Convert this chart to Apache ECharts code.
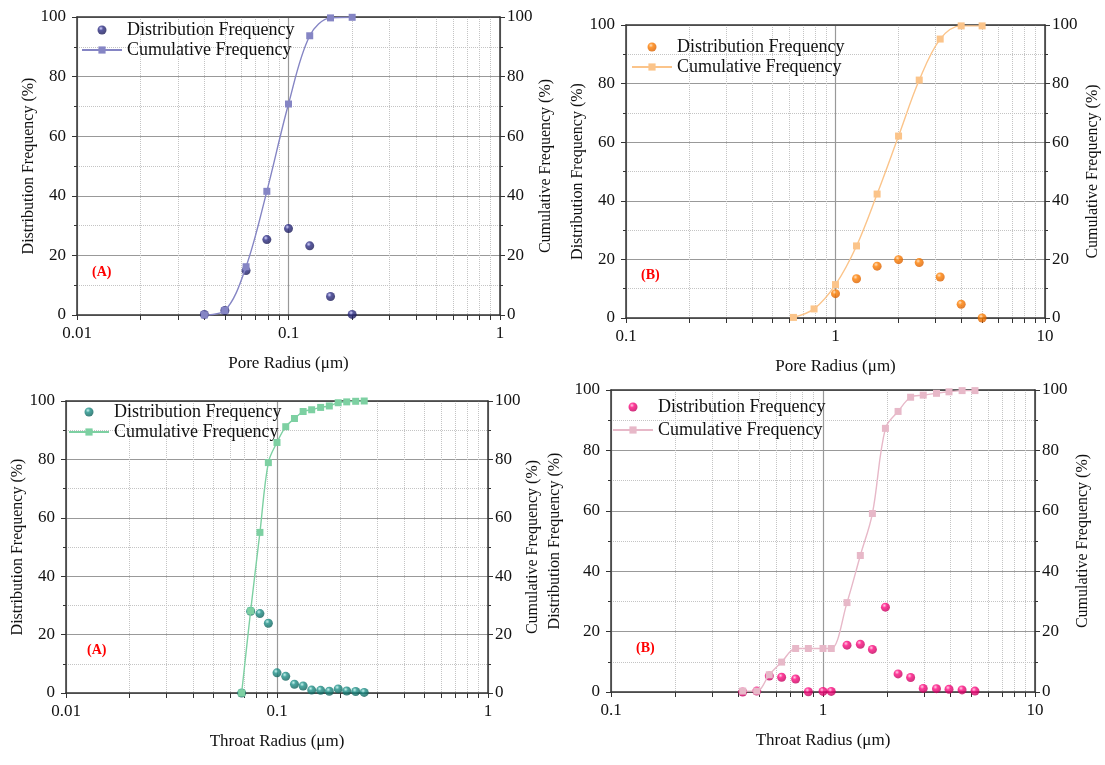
<!DOCTYPE html>
<html>
<head>
<meta charset="utf-8">
<title>Pore and throat radius distribution</title>
<script src="https://cdn.jsdelivr.net/npm/echarts@6.0.0/dist/echarts.min.js"></script>
<style>
html, body { margin: 0; padding: 0; background: #fff; }
#main { width: 1105px; height: 765px; }
</style>
</head>
<body>
<div id="main"></div>
<script>
// pore radius, sample A (um)
var poreA_x    = [0.04, 0.05, 0.063, 0.079, 0.1, 0.126, 0.158, 0.2];
var poreA_dist = [0.2, 1.5, 14.9, 25.3, 29.0, 23.2, 6.2, 0.2];
var poreA_cum  = [0, 1.5, 16.2, 41.5, 70.8, 93.7, 99.7, 99.9];

// pore radius, sample B
var poreB_x     = [0.63, 0.79, 1.0, 1.26, 1.58, 2.0, 2.51, 3.16, 3.98, 5.01];
var poreB_distX = [1.0, 1.26, 1.58, 2.0, 2.51, 3.16, 3.98, 5.01];
var poreB_dist  = [8.3, 13.4, 17.7, 19.9, 18.9, 14.0, 4.7, 0.0];
var poreB_cum   = [0.2, 3.1, 11.4, 24.6, 42.3, 62.1, 81.2, 95.2, 99.7, 99.7];

// throat radius, sample A
var throatA_x    = [0.068, 0.075, 0.083, 0.091, 0.1, 0.11, 0.121, 0.133, 0.146, 0.161, 0.177, 0.195, 0.214, 0.236, 0.259];
var throatA_dist = [0, 28.0, 27.2, 23.9, 6.9, 5.7, 3.0, 2.4, 1.0, 0.9, 0.6, 1.4, 0.7, 0.5, 0.2];
var throatA_cum  = [0, 28.1, 55.0, 78.9, 85.8, 91.2, 94.0, 96.4, 97.0, 97.8, 98.3, 99.4, 99.7, 99.9, 100];

// throat radius, sample B
var throatB_x    = [0.418, 0.487, 0.558, 0.638, 0.743, 0.853, 1.0, 1.094, 1.298, 1.5, 1.71, 1.97, 2.26, 2.59, 2.97, 3.43, 3.93, 4.53, 5.21];
var throatB_dist = [0, 0.3, 5.3, 4.9, 4.3, 0.1, 0.2, 0.2, 15.5, 15.8, 14.1, 28.1, 6.0, 4.8, 1.2, 1.1, 0.9, 0.7, 0.3];
var throatB_cum  = [0.3, 0.3, 5.7, 9.9, 14.4, 14.4, 14.4, 14.4, 29.6, 45.2, 59.1, 87.3, 92.9, 97.6, 98.3, 98.9, 99.4, 99.8, 99.8];

var FONT = 'Liberation Serif';
var AXIS = '#333';

function zip(xs, ys) {
    var out = [];
    for (var i = 0; i < xs.length; i++) out.push([xs[i], ys[i]]);
    return out;
}

// 1,2..9 per decade, for the minor ticks / dotted grid
function logTicks(min, max) {
    var out = [];
    for (var d = min; d < max * 0.999; d *= 10) {
        for (var k = 1; k < 10; k++) out.push(+(d * k).toPrecision(3));
    }
    out.push(max);
    return out;
}

function ball(c, hi, dark) {
    return {
        type: 'radial', x: 0.38, y: 0.32, r: 0.7,
        colorStops: [
            {offset: 0, color: hi},
            {offset: 0.35, color: c},
            {offset: 1, color: dark}
        ]
    };
}

var panels = [
    {
        grid: {left: 77, top: 17, width: 423, height: 298},
        min: 0.01, max: 1, xName: 'Pore Radius (μm)', gapL: 39, gapR: 38,
        distX: poreA_x, dist: poreA_dist, cumX: poreA_x, cum: poreA_cum,
        ballColor: ball('#2e2e86', '#c8c8ff', '#1a1a55'), lineColor: '#8585c4',
        legend: {left: 81, top: 21, itemGap: 2}, tag: '(A)', tagPos: [92, 265]
    },
    {
        grid: {left: 626, top: 25, width: 419, height: 293},
        min: 0.1, max: 10, xName: 'Pore Radius (μm)', gapL: 40, gapR: 40,
        distX: poreB_distX, dist: poreB_dist, cumX: poreB_x, cum: poreB_cum,
        ballColor: ball('#ff7f00', '#ffd9b0', '#d85f00'), lineColor: '#fbc48a',
        legend: {left: 631, top: 38, itemGap: 2}, tag: '(B)', tagPos: [641, 268]
    },
    {
        grid: {left: 66, top: 401, width: 422, height: 292},
        min: 0.01, max: 1, xName: 'Throat Radius (μm)', gapL: 39, gapR: 36,
        distX: throatA_x, dist: throatA_dist, cumX: throatA_x, cum: throatA_cum,
        ballColor: ball('#1d9088', '#b8f0ea', '#0e5f58'), lineColor: '#7dd0a2',
        legend: {left: 68, top: 403, itemGap: 2}, tag: '(A)', tagPos: [87, 643]
    },
    {
        grid: {left: 611, top: 390, width: 424, height: 302},
        min: 0.1, max: 10, xName: 'Throat Radius (μm)', gapL: 48, gapR: 40,
        distX: throatB_x, dist: throatB_dist, cumX: throatB_x, cum: throatB_cum,
        ballColor: ball('#ff0a80', '#ffc0e0', '#c0005c'), lineColor: '#e7b8c8',
        legend: {left: 612, top: 398, itemGap: 5}, tag: '(B)', tagPos: [636, 641]
    }
];

var option = {
    backgroundColor: '#fff',
    animation: false,
    grid: [], xAxis: [], yAxis: [], series: [], legend: [], graphic: []
};

panels.forEach(function (p, i) {
    option.grid.push(p.grid);

    // bottom axis: labels at decades, ticks + dotted lines at 2..9
    option.xAxis.push({
        type: 'log', logBase: 10, gridIndex: i, position: 'bottom',
        min: p.min, max: p.max,
        name: p.xName, nameLocation: 'middle', nameGap: 40,
        nameTextStyle: {fontFamily: FONT, fontSize: 17, color: '#111'},
        axisLine: {show: true, onZero: false, lineStyle: {color: AXIS, width: 1.5}},
        axisTick: {show: true, length: 5, customValues: logTicks(p.min, p.max), lineStyle: {color: AXIS}},
        axisLabel: {fontFamily: FONT, fontSize: 17, color: '#111', margin: 10},
        splitLine: {show: true, lineStyle: {color: '#c4c4c4', type: 'dotted', width: 1}}
    });
    // top axis: frame line + solid decade grid
    option.xAxis.push({
        type: 'log', logBase: 10, gridIndex: i, position: 'top',
        min: p.min, max: p.max,
        axisLine: {show: true, onZero: false, lineStyle: {color: AXIS, width: 1.5}},
        axisTick: {show: false},
        axisLabel: {show: false},
        splitLine: {show: true, lineStyle: {color: '#999', width: 1.2}}
    });

    var yBase = {
        type: 'value', gridIndex: i, min: 0, max: 100, interval: 20,
        nameLocation: 'middle',
        nameTextStyle: {fontFamily: FONT, fontSize: 16, color: '#111'},
        axisLine: {show: true, onZero: false, lineStyle: {color: AXIS, width: 1.5}},
        axisTick: {show: true, length: 5, lineStyle: {color: AXIS}},
        minorTick: {show: true, splitNumber: 2, length: 3, lineStyle: {color: AXIS}}
    };
    option.yAxis.push(Object.assign({}, yBase, {
        position: 'left', name: 'Distribution Frequency (%)', nameGap: p.gapL,
        axisLabel: {fontFamily: FONT, fontSize: 17, color: '#111', margin: 11},
        splitLine: {show: true, lineStyle: {color: '#999', width: 1.2}},
        minorSplitLine: {show: true, lineStyle: {color: '#c4c4c4', type: 'dotted', width: 1}}
    }));
    option.yAxis.push(Object.assign({}, yBase, {
        position: 'right', name: 'Cumulative Frequency (%)', nameGap: p.gapR,
        axisLabel: {fontFamily: FONT, fontSize: 17, color: '#111', margin: 7},
        splitLine: {show: false}
    }));

    var distName = 'Distribution Frequency#' + i;
    var cumName = 'Cumulative Frequency#' + i;

    option.series.push({
        name: distName, type: 'scatter',
        xAxisIndex: 2 * i, yAxisIndex: 2 * i,
        symbol: 'circle', symbolSize: 9,
        itemStyle: {color: p.ballColor},
        z: 3,
        data: zip(p.distX, p.dist)
    });
    option.series.push({
        name: cumName, type: 'line',
        xAxisIndex: 2 * i, yAxisIndex: 2 * i + 1,
        smooth: 0.35,
        symbol: 'rect', symbolSize: 7, showSymbol: true,
        lineStyle: {color: p.lineColor, width: 1.4},
        itemStyle: {color: p.lineColor},
        z: 4,
        data: zip(p.cumX, p.cum)
    });

    option.legend.push({
        left: p.legend.left, top: p.legend.top, padding: 0,
        orient: 'vertical', itemGap: p.legend.itemGap,
        itemWidth: 40, itemHeight: 9,
        selectedMode: false,
        data: [distName, cumName],
        formatter: function (name) { return name.split('#')[0]; },
        textStyle: {fontFamily: FONT, fontSize: 18, color: '#111', lineHeight: 18}
    });

    option.graphic.push({
        type: 'text', left: p.tagPos[0], top: p.tagPos[1],
        style: {text: p.tag, fill: '#ff0000', font: 'bold 14px "Liberation Serif"'}
    });
});

var myChart = echarts.init(document.getElementById('main'));
myChart.setOption(option);
window.onresize = function () {
    myChart.resize();
};
</script>
</body>
</html>
